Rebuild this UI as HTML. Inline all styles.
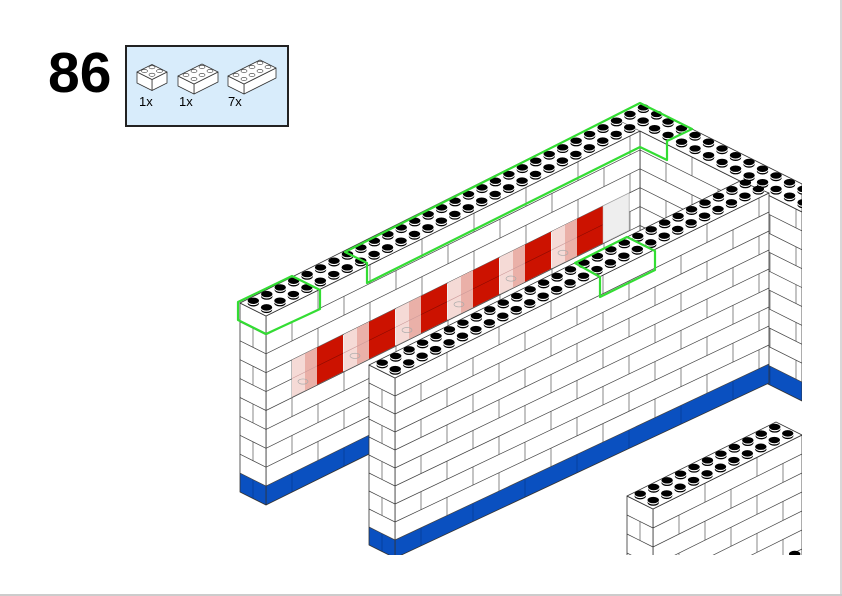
<!DOCTYPE html>
<html><head><meta charset="utf-8"><style>
html,body{margin:0;padding:0;background:#fff;width:842px;height:596px;overflow:hidden;}
#wrap{position:relative;width:842px;height:596px;overflow:hidden;background:#fff;}
.num{position:absolute;left:48px;top:40px;font:bold 57px "Liberation Sans",sans-serif;color:#000;line-height:66px;}
.box{position:absolute;left:125px;top:45px;width:160px;height:78px;border:2px solid #222;background:#d8ecfb;}
.q{position:absolute;top:94px;font:13px "Liberation Sans",sans-serif;color:#000;}
</style></head><body><div id="wrap">
<div class="num">86</div>
<div class="box"></div>
<div class="q" style="left:139px">1x</div>
<div class="q" style="left:179px">1x</div>
<div class="q" style="left:228px">7x</div>
<svg id="s" width="842" height="596" style="position:absolute;left:0;top:0;overflow:hidden">
<line x1="0" y1="595" x2="842" y2="595" stroke="#bbb" stroke-width="1.5"/>
<line x1="841" y1="0" x2="841" y2="596" stroke="#ccc" stroke-width="1.5"/>
</svg>
</div>
<script>
var out=[];
function P(a){return a.map(function(p){return p[0].toFixed(1)+','+Math.min(p[1],560).toFixed(1)}).join(' ')}
function poly(a,f,st,sw){out.push('<polygon points="'+P(a)+'" fill="'+f+'" stroke="'+(st||'none')+'" stroke-width="'+(sw||0.8)+'" stroke-linejoin="round"/>');}
function line(a,b,c,w){if(a[1]>560&&b[1]>560)return;out.push('<line x1="'+a[0].toFixed(1)+'" y1="'+a[1].toFixed(1)+'" x2="'+b[0].toFixed(1)+'" y2="'+b[1].toFixed(1)+'" stroke="'+(c||'#444')+'" stroke-width="'+(w||0.7)+'"/>');}
function lerp(a,b,t){return [a[0]+(b[0]-a[0])*t,a[1]+(b[1]-a[1])*t];}
function face(At,Bt,Ab,Bb,n,blue,blen,off){
 poly([At,Bt,Bb,Ab],'#fff');
 var L=Bt[0]-At[0];
 for(var r=0;r<n;r++){
  var t0=r/n,t1=(r+1)/n;
  var a0=lerp(At,Ab,t0),b0=lerp(Bt,Bb,t0),a1=lerp(At,Ab,t1),b1=lerp(Bt,Bb,t1);
  if(a0[1]>560&&b0[1]>560)continue;
  if(blue&&r==n-1)poly([a0,b0,b1,a1],'#0a50c0');
  var o=(r%2)?off:0;
  for(var x=o;x<L-1;x+=blen){ if(x<1)continue;
   var s=x/L; line(lerp(a0,b0,s),lerp(a1,b1,s),(blue&&r==n-1)?'#063a90':'#555',0.7);}
  if(r>0)line(a0,b0,'#444',0.7);
 }
 poly([At,Bt,Bb,Ab],'none','#333',0.8);
}
function stud(c){
 var x=c[0],y=c[1];
 out.push('<ellipse cx="'+x+'" cy="'+(y+2.3)+'" rx="5.7" ry="3.2" fill="#000"/>');
 out.push('<ellipse cx="'+x+'" cy="'+(y+1)+'" rx="5.7" ry="3.2" fill="#fff"/>');
 out.push('<ellipse cx="'+x+'" cy="'+(y-0.2)+'" rx="5.7" ry="3.2" fill="#000"/>');
}
var U=[13.45,-6.67],V=[13.2,6.6];
function studs(o,nu,nv,u,v){for(var i=0;i<nu;i++)for(var j=0;j<nv;j++){stud([o[0]+(i+0.5)*u[0]+(j+0.5)*v[0],o[1]+(i+0.5)*u[1]+(j+0.5)*v[1]-2]);}}

face([640,131],[802,212],[640,320],[802,401],10,true,52,26);
face([266,316],[640,131],[266,505],[640,320],10,true,52,26);
(function(){
 function ty(x){return 360-0.495*(x-292);}
 poly([[292,ty(292)],[629,ty(629)],[629,ty(629)+37],[292,397]],'#f0f0f0','#666',0.7);
 line([292,ty(292)+18.5],[629,ty(629)+18.5],'#bbb',0.6);
 var xs=[317,369,421,473,525,577];
 xs.forEach(function(x){
  poly([[x-25,ty(x-25)],[x,ty(x)],[x,ty(x)+37],[x-25,ty(x-25)+37]],'#f5dad6');
  poly([[x-12,ty(x-12)],[x,ty(x)],[x,ty(x)+37],[x-12,ty(x-12)+37]],'#eab0a8');
  line([x-25,ty(x-25)+18.5],[x,ty(x)+18.5],'#c99',0.6);
  out.push('<ellipse cx="'+(x-14)+'" cy="'+(ty(x-14)+27)+'" rx="5" ry="2.6" fill="none" stroke="#aaa" stroke-width="0.7"/>');
  poly([[x,ty(x)],[x+26,ty(x+26)],[x+26,ty(x+26)+37],[x,ty(x)+37]],'#cc1200');
  line([x,ty(x)+18.5],[x+26,ty(x+26)+18.5],'#8a0a00',0.6);
 });
 poly([[603,ty(603)],[629,ty(629)],[629,ty(629)+37],[603,ty(603)+37]],'#eeeeee','#bbb',0.5);
})();
face([240,303],[266,316],[240,492],[266,505],10,true,26,13);
poly([[240,303],[640,103],[802,184],[802,212],[640,131],[266,316]],'#fff','#333',0.8);
line([612,117],[640,131],'#555',0.6);
studs([240,303],30,2,U,V);
studs([668,117],12,2,[13.5,6.75],[-13.45,6.67]);
face([395,378],[769,193],[395,558],[769,383],10,true,52,26);
face([369,365],[395,378],[369,545],[395,558],10,true,26,13);
poly([[369,365],[395,378],[769,193],[740,181]],'#fff','#333',0.8);
studs([369,365],28,2,U,[13,6.4]);
face([653,509],[802,435],[653,699],[802,625],10,true,52,26);
face([627,496],[653,509],[627,686],[653,699],10,true,26,13);
poly([[627,496],[653,509],[802,435],[776,422]],'#fff','#333',0.8);
studs([627,496],11,2,U,[13,6.4]);
studs([768,563],3,1,U,[13,6.4]);
var g='#33dd33';
function gp(a){out.push('<polygon points="'+P(a)+'" fill="none" stroke="'+g+'" stroke-width="2.2" stroke-linejoin="round"/>');}
gp([[238,302],[292,276],[320,290],[320,309],[266,334],[238,320]]);
gp([[345,252],[640,103],[692,129],[667,141],[667,160],[640,147],[367,283],[367,263]]);
gp([[575,263],[627,237],[655,251],[655,270],[600,297],[600,277]]);
function icon(x,y,nu,s,h){
 var u=[s,-s*0.5],v=[s,s*0.5];
 var A=[x,y],B=[x+nu*u[0],y+nu*u[1]],C=[B[0]+2*v[0],B[1]+2*v[1]],D=[x+2*v[0],y+2*v[1]];
 poly([D,C,[C[0],C[1]+h],[D[0],D[1]+h]],'#fff','#333',0.8);
 poly([A,D,[D[0],D[1]+h],[A[0],A[1]+h]],'#fff','#333',0.8);
 poly([A,B,C,D],'#fff','#333',0.8);
 for(var i=0;i<nu;i++)for(var j=0;j<2;j++){var cx=x+(i+0.5)*u[0]+(j+0.5)*v[0],cy=y+(i+0.5)*u[1]+(j+0.5)*v[1];
  out.push('<ellipse cx="'+cx+'" cy="'+(cy-1)+'" rx="3" ry="1.6" fill="#fff" stroke="#333" stroke-width="0.6"/>');}
}
var cont='<clipPath id="cp"><rect x="0" y="0" width="802" height="555"/></clipPath><g clip-path="url(#cp)">'+out.join('')+'</g>';
out=[];
icon(137,72,2,7.5,11);icon(178,76,3,8,10);icon(228,76,4,8,10);
document.getElementById('s').insertAdjacentHTML('beforeend',cont+out.join(''));
</script>
</body></html>
